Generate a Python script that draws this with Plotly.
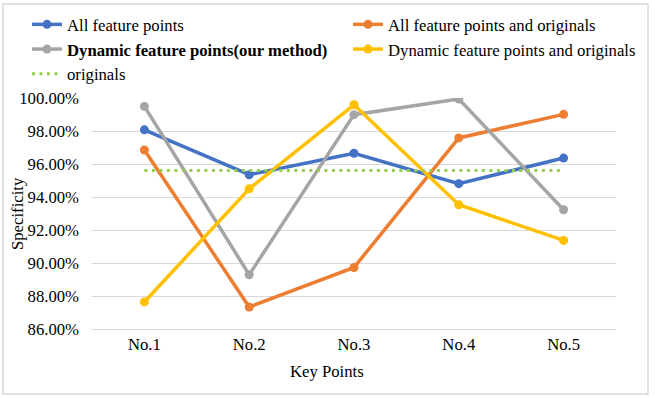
import plotly.graph_objects as go

categories = ["No.1", "No.2", "No.3", "No.4", "No.5"]
all_fp = [0.9807, 0.9535, 0.9665, 0.9481, 0.9636]
all_fp_orig = [0.9685, 0.8733, 0.8973, 0.9758, 0.9901]
dyn_fp = [0.9949, 0.8929, 0.9899, 0.9994, 0.9323]
dyn_fp_orig = [0.8764, 0.9450, 0.9959, 0.9353, 0.9137]
originals = [0.9561, 0.9561, 0.9561, 0.9561, 0.9561]
y_ticks = [0.86, 0.88, 0.90, 0.92, 0.94, 0.96, 0.98, 1.00]

W, H = 655, 398
ML, MR, MT, MB = 92, 39, 98, 69
PW, PH = W - ML - MR, H - MT - MB
FONT = "Liberation Serif, Times New Roman, serif"
FS = 16.7

fig = go.Figure()
series = [
    ("All feature points", all_fp, "#4472C4", "legend"),
    ("All feature points and originals", all_fp_orig, "#ED7D31", "legend2"),
    ("<b>Dynamic feature points(our method)</b>", dyn_fp, "#A5A5A5", "legend"),
    ("Dynamic feature points and originals", dyn_fp_orig, "#FFC000", "legend2"),
]
for name, vals, col, lg in series:
    fig.add_trace(go.Scatter(
        x=categories, y=vals, name=name, mode="lines+markers",
        line=dict(color=col, width=3.5),
        marker=dict(color=col, size=9), legend=lg,
    ))
fig.add_trace(go.Scatter(
    x=categories, y=originals, name="originals", mode="lines",
    line=dict(color="#92D050", width=3, dash="3px,4.5px"), legend="legend",
))

def px2paper_x(px):
    return (px - ML) / PW

def px2paper_y(py):
    return (H - MB - py) / PH

legend_style = dict(
    orientation="v", xref="paper", yref="paper",
    xanchor="left", yanchor="top",
    font=dict(family=FONT, size=FS, color="black"),
    bgcolor="rgba(0,0,0,0)", itemwidth=30, tracegroupgap=0,
)

fig.update_layout(
    width=W, height=H,
    margin=dict(l=ML, r=MR, t=MT, b=MB, autoexpand=False),
    paper_bgcolor="white", plot_bgcolor="white",
    font=dict(family=FONT, size=FS, color="black"),
    showlegend=True,
    legend=dict(x=px2paper_x(27), y=px2paper_y(7), **legend_style),
    legend2=dict(x=px2paper_x(348), y=px2paper_y(7), **legend_style),
    xaxis=dict(
        type="category", showgrid=False, showline=True, linecolor="#D9D9D9",
        linewidth=1, ticks="", tickfont=dict(family=FONT, size=FS),
        range=[-0.5, 4.5], fixedrange=True,
    ),
    yaxis=dict(
        range=[0.86, 1.0], tickvals=y_ticks, tickformat=".2%",
        showgrid=True, gridcolor="#D9D9D9", gridwidth=1, zeroline=False,
        showline=False, ticks="", ticklabelstandoff=12,
        tickfont=dict(family=FONT, size=FS),
    ),
    annotations=[
        dict(text="Specificity", textangle=-90, xref="paper", yref="paper",
             x=px2paper_x(17), y=px2paper_y(214), showarrow=False,
             xanchor="center", yanchor="middle",
             font=dict(family=FONT, size=FS, color="black")),
        dict(text="Key Points", xref="paper", yref="paper",
             x=px2paper_x(327), y=px2paper_y(371), showarrow=False,
             xanchor="center", yanchor="middle",
             font=dict(family=FONT, size=FS, color="black")),
    ],
    shapes=[
        dict(type="rect", xref="paper", yref="paper",
             x0=px2paper_x(3), x1=px2paper_x(648),
             y0=px2paper_y(394), y1=px2paper_y(4),
             line=dict(color="#D9D9D9", width=1.5), fillcolor="rgba(0,0,0,0)",
             layer="below"),
    ],
)

fig.write_html("out.html", config={"displayModeBar": False},
               post_script="document.body.style.margin='0';")
